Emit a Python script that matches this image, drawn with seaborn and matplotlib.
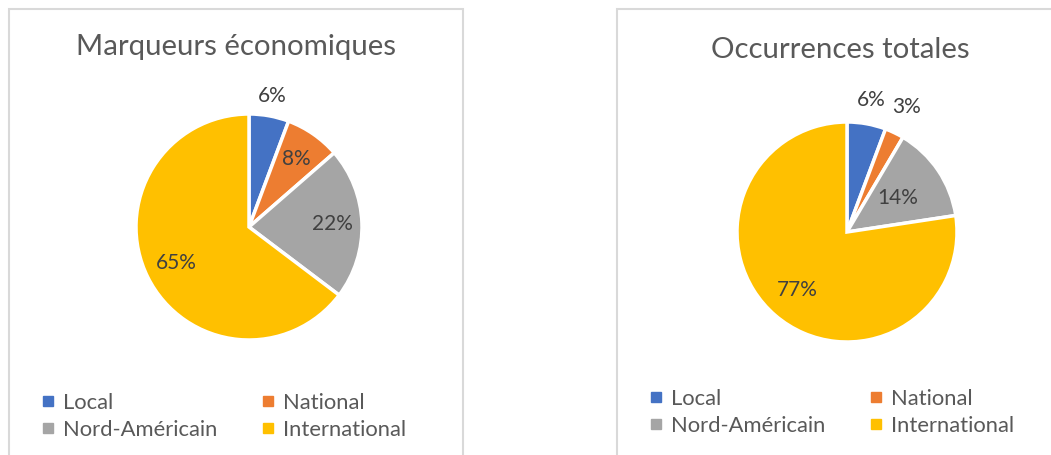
import matplotlib
matplotlib.use("Agg")
import matplotlib.pyplot as plt
import matplotlib.patches as mpatches
from matplotlib.lines import Line2D
import numpy as np
import seaborn as sns

# data
categories = ["Local", "National", "Nord-Américain", "International"]
titles = ["Marqueurs économiques", "Occurrences totales"]
eco_values = [5.7, 7.9, 21.7, 64.7]
occ_values = [5.7, 2.8, 14.1, 77.4]

sns.set_theme(style="white")
plt.rcParams['font.family'] = ['Lato', 'DejaVu Sans']
colors = sns.color_palette(["#4472C4", "#ED7D31", "#A5A5A5", "#FFC000"])

W, H = 1051, 455
fig = plt.figure(figsize=(W / 100, H / 100), dpi=100)


def px_axes(cx, cy, r):
    return fig.add_axes([(cx - r) / W, (H - cy - r) / H, 2 * r / W, 2 * r / H])


def draw_pie(ax, values, label_dist):
    wedges, _ = ax.pie(values, colors=colors, startangle=90, counterclock=False,
                       wedgeprops=dict(edgecolor="white", linewidth=2.5))
    total = sum(values)
    for w, v, d in zip(wedges, values, label_dist):
        ang = np.deg2rad((w.theta1 + w.theta2) / 2)
        ax.text(d * np.cos(ang), d * np.sin(ang), f"{round(v / total * 100)}%",
                ha="center", va="center", fontsize=15, color="#404040")
    ax.set_xlim(-1, 1)
    ax.set_ylim(-1, 1)
    ax.set_aspect("equal")
    ax.axis("off")


# panel frames
for x0, x1 in [(9, 463), (617, 1060)]:
    fig.patches.append(mpatches.Rectangle((x0 / W, -0.1), (x1 - x0) / W, (H - 9) / H + 0.1,
                                          transform=fig.transFigure, fill=False,
                                          edgecolor="#d9d9d9", linewidth=1.5))

ax1 = px_axes(249, 227, 113)
draw_pie(ax1, eco_values, [1.18, 0.73, 0.74, 0.72])
ax2 = px_axes(847, 232, 110)
draw_pie(ax2, occ_values, [1.22, 1.26, 0.56, 0.69])

fig.text(236 / W, 1 - 47 / H, titles[0], ha="center", va="center", fontsize=21.2, color="#595959")
fig.text(840 / W, 1 - 50 / H, titles[1], ha="center", va="center", fontsize=21.2, color="#595959")

handles = [Line2D([], [], marker="s", linestyle="none", markersize=7, markerfacecolor=c,
                  markeredgecolor=c) for c in colors]
# matplotlib fills legend columns first, so reorder for a row-wise layout
order = [0, 2, 1, 3]
for x, y in [(41, 393), (649, 389)]:
    fig.legend([handles[i] for i in order], [categories[i] for i in order], ncol=2,
               loc="upper left", bbox_to_anchor=(x / W, 1 - y / H), frameon=False,
               fontsize=15.8, labelcolor="#595959", handlelength=0.6, handletextpad=0.4,
               columnspacing=2.0, labelspacing=0.3, borderpad=0, borderaxespad=0)

fig.savefig("out.png", dpi=100, facecolor="white")
